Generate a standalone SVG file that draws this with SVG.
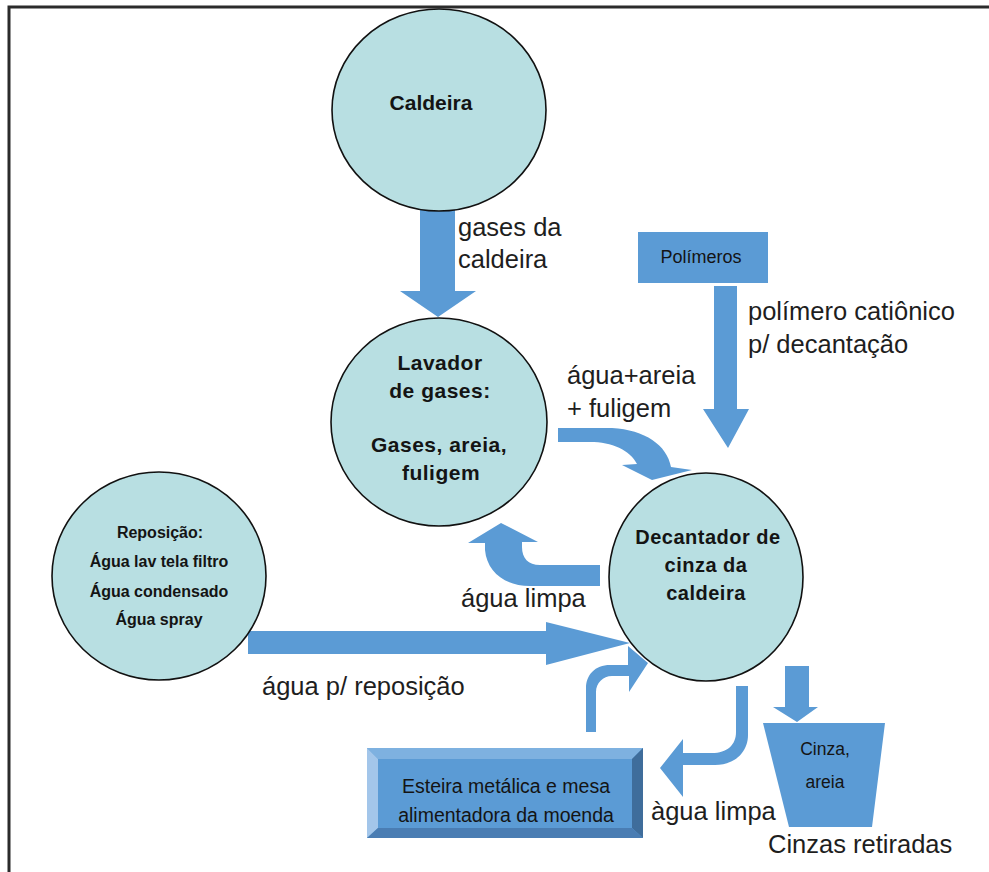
<svg xmlns="http://www.w3.org/2000/svg" width="989" height="872" viewBox="0 0 989 872">
<style>
.bg{fill:#ffffff}
.frame{fill:none;stroke:#2b2b2b;stroke-width:3}
.circ{fill:#b8dfe2;stroke:#111;stroke-width:1.6}
.arrow{fill:#5b9bd5}
.lbl{font-family:"Liberation Sans",Arial,sans-serif;font-size:25.5px;fill:#1e1e1e}
.ct{font-family:"Liberation Sans",Arial,sans-serif;font-weight:bold;fill:#141414;text-anchor:middle}
.bt{font-family:"Liberation Sans",Arial,sans-serif;fill:#141414;text-anchor:middle}
</style>
<rect class="bg" x="0" y="0" width="989" height="872"/>
<rect class="frame" x="9" y="7" width="1000" height="900"/>

<g id="connectors">
  <!-- gases da caldeira -->
  <path class="arrow" d="M420,208 L455,208 L455,291 L476,291 L438,317 L400,291 L420,291 Z"/>
  <!-- polimero cationico -->
  <path class="arrow" d="M714,286 L737,286 L737,409 L749,409 L728,448 L703,409 L714,409 Z"/>
  <!-- agua+areia+fuligem -->
  <path class="arrow" d="M558,428 L612,428 C645,430 667,445 671,467 L692,470 L652,480 L622,465 L637,464 C630,450 612,442 590,442 L558,442 Z"/>
  <!-- agua limpa to lavador -->
  <path class="arrow" d="M600,565 L540,565 C528,565 522,558 522,547 L522,542 L538,542 L501,523 L468,543 L485,543 L485,550 C487,572 505,586 530,586 L600,586 Z"/>
  <!-- agua p/ reposicao -->
  <path class="arrow" d="M248,631 L546,631 L546,622 L630,643 L546,665 L546,654 L248,654 Z"/>
  <!-- esteira to decantador -->
  <path class="arrow" d="M586,732 L586,688 C586,675 595,665 610,665 L628,665 L628,646 L648,663 L629,692 L629,676 L612,676 C603,676 596,683 596,692 L596,732 Z"/>
  <!-- agua limpa to esteira -->
  <path class="arrow" d="M736,686 L748,686 L748,735 C748,752 735,765 715,765 L683,765 L683,797 L660,768 L683,739 L683,753 L712,753 C727,753 736,745 736,732 Z"/>
  <!-- to cinzas -->
  <path class="arrow" d="M785,666 L809,666 L809,707 L818,707 L797,722 L773,707 L785,707 Z"/>
</g>

<g id="labels">
  <text class="lbl" x="458" y="236">gases da</text>
  <text class="lbl" x="458" y="268">caldeira</text>
  <text class="lbl" x="748" y="320">polímero catiônico</text>
  <text class="lbl" x="748" y="353">p/ decantação</text>
  <text class="lbl" x="567" y="384">água+areia</text>
  <text class="lbl" x="567" y="417">+ fuligem</text>
  <text class="lbl" x="461" y="607">água limpa</text>
  <text class="lbl" x="262" y="695">água p/ reposição</text>
  <text class="lbl" x="651" y="820">àgua limpa</text>
  <text class="lbl" x="768" y="853">Cinzas retiradas</text>
</g>

<g id="caldeira">
  <ellipse class="circ" cx="439" cy="110" rx="107" ry="101"/>
  <text class="ct" x="431" y="110" font-size="21">Caldeira</text>
</g>

<g id="lavador">
  <ellipse class="circ" cx="439" cy="422" rx="108" ry="104"/>
  <text class="ct" x="440" y="370" font-size="21" letter-spacing="0.5">Lavador</text>
  <text class="ct" x="440" y="398" font-size="21" letter-spacing="0.5">de gases:</text>
  <text class="ct" x="439" y="452" font-size="21" letter-spacing="0.5">Gases, areia,</text>
  <text class="ct" x="441" y="480" font-size="21" letter-spacing="0.5">fuligem</text>
</g>

<g id="reposicao">
  <ellipse class="circ" cx="159" cy="576" rx="107" ry="104"/>
  <text class="ct" x="160" y="538" font-size="16">Reposição:</text>
  <text class="ct" x="159" y="567" font-size="16">Água lav tela filtro</text>
  <text class="ct" x="159" y="597" font-size="16">Água condensado</text>
  <text class="ct" x="159" y="625" font-size="16">Água spray</text>
</g>

<g id="decantador">
  <ellipse class="circ" cx="706" cy="577" rx="97" ry="104"/>
  <text class="ct" x="708" y="544" font-size="20" letter-spacing="0.5">Decantador de</text>
  <text class="ct" x="706" y="572" font-size="20" letter-spacing="0.5">cinza da</text>
  <text class="ct" x="706" y="600" font-size="20" letter-spacing="0.5">caldeira</text>
</g>

<g id="polimeros">
  <rect x="638" y="232" width="130" height="51" fill="#5b9bd5"/>
  <text class="bt" x="701" y="263" font-size="18">Polímeros</text>
</g>

<g id="esteira">
  <rect x="367" y="748" width="276" height="90" fill="#5b9bd5"/>
  <polygon points="367,748 643,748 632,759 378,759" fill="#7eb1e0"/>
  <polygon points="367,748 378,759 378,828 367,838" fill="#a3c6ea"/>
  <polygon points="643,748 643,838 632,828 632,759" fill="#3f6d9b"/>
  <polygon points="367,838 643,838 632,828 378,828" fill="#4a7db3"/>
  <text class="bt" x="506" y="793" font-size="19.5">Esteira metálica e mesa</text>
  <text class="bt" x="506" y="822" font-size="19.5">alimentadora da moenda</text>
</g>

<g id="cinza">
  <polygon points="763,723 885,723 872,827 789,827" fill="#5b9bd5"/>
  <text class="bt" x="825" y="755" font-size="17.5">Cinza,</text>
  <text class="bt" x="825" y="788" font-size="17.5">areia</text>
</g>
</svg>
